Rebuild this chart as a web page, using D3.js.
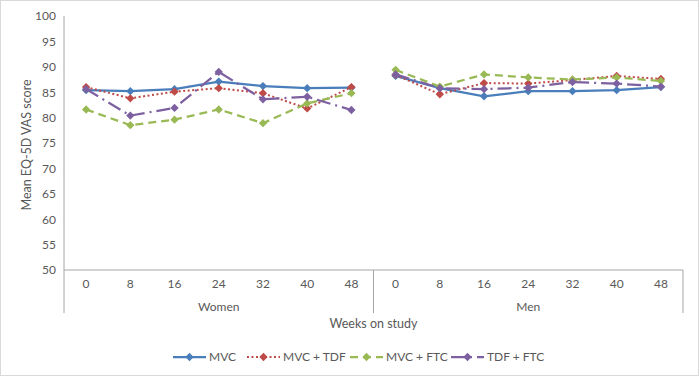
<!DOCTYPE html>
<html><head><meta charset="utf-8">
<script src="https://cdn.jsdelivr.net/npm/d3@7"></script>
<style>body{margin:0;background:#fff}svg{display:block}text{font-family:Lato,"Open Sans",sans-serif;fill:#595959}</style>
</head><body><svg id="c" width="700" height="378"></svg>
<script>
const groups = ["Women", "Men"];
const weeks = ["0", "8", "16", "24", "32", "40", "48"];
const yTicks = [50, 55, 60, 65, 70, 75, 80, 85, 90, 95, 100];
const seriesNames = ["MVC", "MVC + TDF", "MVC + FTC", "TDF + FTC"];
const mvcWomen = [85.4, 85.2, 85.6, 87.1, 86.2, 85.8, 85.9];
const mvcMen = [88.2, 85.8, 84.2, 85.2, 85.2, 85.4, 86.0];
const mvcTdfWomen = [86.0, 83.8, 85.1, 85.8, 84.8, 81.8, 86.0];
const mvcTdfMen = [88.4, 84.6, 86.8, 86.7, 87.4, 88.2, 87.6];
const mvcFtcWomen = [81.6, 78.5, 79.6, 81.6, 78.9, 82.8, 84.8];
const mvcFtcMen = [89.4, 86.1, 88.5, 87.9, 87.5, 87.9, 87.2];
const tdfFtcWomen = [85.6, 80.4, 81.9, 89.0, 83.6, 84.1, 81.5];
const tdfFtcMen = [88.5, 85.8, 85.6, 85.9, 87.0, 86.7, 86.1];

const colors = ["#4A7EBB", "#BE4B48", "#98B954", "#7D60A0"];
const dashes = [null, "2,2.5", "8,5", "14,5,2,5"];
const seriesData = [
  [mvcWomen, mvcMen], [mvcTdfWomen, mvcTdfMen], [mvcFtcWomen, mvcFtcMen], [tdfFtcWomen, tdfFtcMen]
];

const svg = d3.select("#c");
const L = 64, R = 683, T = 16, B = 270;
svg.append("rect").attr("x", 0.5).attr("y", 0.5).attr("width", 698).attr("height", 375)
  .attr("fill", "#fff").attr("stroke", "#d9d9d9");

const cats = [];
groups.forEach(g => weeks.forEach(w => cats.push(g + "|" + w)));
const x = d3.scaleBand().domain(cats).range([L, R]);
const y = d3.scaleLinear().domain([50, 100]).range([B, T]);
const gx = d3.scaleBand().domain(groups).range([L, R]);

// y axis
const ya = svg.append("g").attr("transform", `translate(${L},0)`)
  .call(d3.axisLeft(y).tickValues(yTicks).tickSize(0).tickPadding(8));
ya.select(".domain").remove();
ya.selectAll("text").style("font-size", "12px").attr("fill", "#595959");
svg.append("line").attr("x1", L).attr("x2", L).attr("y1", T).attr("y2", 313).attr("stroke", "#a6a6a6");

// x axis
const xa = svg.append("g").attr("transform", `translate(0,${B})`)
  .call(d3.axisBottom(x).tickSize(0).tickPadding(9).tickFormat(d => d.split("|")[1]));
xa.select(".domain").remove();
xa.selectAll("text").style("font-size", "12px").attr("fill", "#595959");
svg.append("line").attr("x1", L).attr("x2", R).attr("y1", B).attr("y2", B).attr("stroke", "#a6a6a6");
groups.forEach((g, i) => {
  const xe = gx(g) + gx.bandwidth();
  svg.append("line").attr("x1", xe).attr("x2", xe).attr("y1", B).attr("y2", 313).attr("stroke", "#a6a6a6");
  svg.append("text").attr("x", gx(g) + gx.bandwidth() / 2).attr("y", 311).attr("text-anchor", "middle")
    .style("font-size", "12px").text(g);
});

svg.append("text").attr("x", (L + R) / 2).attr("y", 328).attr("text-anchor", "middle")
  .style("font-size", "12.5px").text("Weeks on study");
svg.append("text").attr("transform", `translate(31,${(T + B) / 2 + 2}) rotate(-90)`).attr("text-anchor", "middle")
  .style("font-size", "12.5px").text("Mean EQ-5D VAS score");

const diamond = d3.symbol().type(d3.symbolDiamond2).size(44);
const line = d3.line().x(d => d.x).y(d => d.y);

seriesData.forEach((sd, si) => {
  sd.forEach((vals, gi) => {
    const pts = vals.map((v, i) => ({ x: x(groups[gi] + "|" + weeks[i]) + x.bandwidth() / 2, y: y(v) }));
    svg.append("path").attr("d", line(pts)).attr("fill", "none").attr("stroke", colors[si])
      .attr("stroke-width", si === 1 ? 2 : 2.25).attr("stroke-dasharray", dashes[si]);
    svg.selectAll(null).data(pts).enter().append("path").attr("d", diamond)
      .attr("transform", d => `translate(${d.x},${d.y})`).attr("fill", colors[si]);
  });
});

// legend
const legX = [173, 247, 350, 451];
const legY = 357;
seriesNames.forEach((n, i) => {
  const g = svg.append("g");
  g.append("line").attr("x1", legX[i]).attr("x2", legX[i] + 33).attr("y1", legY).attr("y2", legY)
    .attr("stroke", colors[i]).attr("stroke-width", i === 1 ? 2 : 2.25).attr("stroke-dasharray", dashes[i]);
  g.append("path").attr("d", diamond).attr("transform", `translate(${legX[i] + 16.5},${legY})`).attr("fill", colors[i]);
  g.append("text").attr("x", legX[i] + 36).attr("y", legY + 4).style("font-size", "12px").text(n);
});
</script></body></html>
